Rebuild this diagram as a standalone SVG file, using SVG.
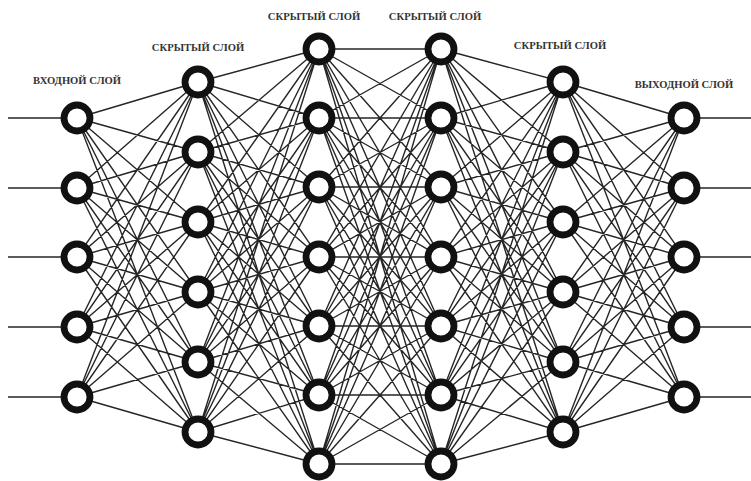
<svg xmlns="http://www.w3.org/2000/svg" width="751" height="481" viewBox="0 0 751 481">
<style>
.c{fill:none;stroke:#262626;stroke-width:1.4;stroke-linejoin:round}
.n{fill:#fff;stroke:#111;stroke-width:6.8}
.t{font-family:"Liberation Serif",serif;font-weight:bold;font-size:10.6px;fill:#333;text-anchor:middle}
</style>
<rect width="751" height="481" fill="#fff"/>
<g id="connectors">
<path class="c" d="M8 118H77M8 188H77M8 257H77M8 327H77M8 397H77M684 118H751M684 188H751M684 257H751M684 327H751M684 397H751"/>
<path class="c" d="M77 118L198 82 77 118 198 152 77 118 198 222 77 118 198 292 77 118 198 362 77 118 198 432
M77 188L198 82 77 188 198 152 77 188 198 222 77 188 198 292 77 188 198 362 77 188 198 432
M77 257L198 82 77 257 198 152 77 257 198 222 77 257 198 292 77 257 198 362 77 257 198 432
M77 327L198 82 77 327 198 152 77 327 198 222 77 327 198 292 77 327 198 362 77 327 198 432
M77 397L198 82 77 397 198 152 77 397 198 222 77 397 198 292 77 397 198 362 77 397 198 432"/>
<path class="c" d="M198 82L319 49 198 82 319 118 198 82 319 187 198 82 319 257 198 82 319 326 198 82 319 395 198 82 319 464
M198 152L319 49 198 152 319 118 198 152 319 187 198 152 319 257 198 152 319 326 198 152 319 395 198 152 319 464
M198 222L319 49 198 222 319 118 198 222 319 187 198 222 319 257 198 222 319 326 198 222 319 395 198 222 319 464
M198 292L319 49 198 292 319 118 198 292 319 187 198 292 319 257 198 292 319 326 198 292 319 395 198 292 319 464
M198 362L319 49 198 362 319 118 198 362 319 187 198 362 319 257 198 362 319 326 198 362 319 395 198 362 319 464
M198 432L319 49 198 432 319 118 198 432 319 187 198 432 319 257 198 432 319 326 198 432 319 395 198 432 319 464"/>
<path class="c" d="M319 49L441 49 319 49 441 118 319 49 441 187 319 49 441 257 319 49 441 326 319 49 441 395 319 49 441 464
M319 118L441 49 319 118 441 118 319 118 441 187 319 118 441 257 319 118 441 326 319 118 441 395 319 118 441 464
M319 187L441 49 319 187 441 118 319 187 441 187 319 187 441 257 319 187 441 326 319 187 441 395 319 187 441 464
M319 257L441 49 319 257 441 118 319 257 441 187 319 257 441 257 319 257 441 326 319 257 441 395 319 257 441 464
M319 326L441 49 319 326 441 118 319 326 441 187 319 326 441 257 319 326 441 326 319 326 441 395 319 326 441 464
M319 395L441 49 319 395 441 118 319 395 441 187 319 395 441 257 319 395 441 326 319 395 441 395 319 395 441 464
M319 464L441 49 319 464 441 118 319 464 441 187 319 464 441 257 319 464 441 326 319 464 441 395 319 464 441 464"/>
<path class="c" d="M441 49L563 82 441 49 563 152 441 49 563 222 441 49 563 292 441 49 563 362 441 49 563 432
M441 118L563 82 441 118 563 152 441 118 563 222 441 118 563 292 441 118 563 362 441 118 563 432
M441 187L563 82 441 187 563 152 441 187 563 222 441 187 563 292 441 187 563 362 441 187 563 432
M441 257L563 82 441 257 563 152 441 257 563 222 441 257 563 292 441 257 563 362 441 257 563 432
M441 326L563 82 441 326 563 152 441 326 563 222 441 326 563 292 441 326 563 362 441 326 563 432
M441 395L563 82 441 395 563 152 441 395 563 222 441 395 563 292 441 395 563 362 441 395 563 432
M441 464L563 82 441 464 563 152 441 464 563 222 441 464 563 292 441 464 563 362 441 464 563 432"/>
<path class="c" d="M563 82L684 118 563 82 684 188 563 82 684 257 563 82 684 327 563 82 684 397
M563 152L684 118 563 152 684 188 563 152 684 257 563 152 684 327 563 152 684 397
M563 222L684 118 563 222 684 188 563 222 684 257 563 222 684 327 563 222 684 397
M563 292L684 118 563 292 684 188 563 292 684 257 563 292 684 327 563 292 684 397
M563 362L684 118 563 362 684 188 563 362 684 257 563 362 684 327 563 362 684 397
M563 432L684 118 563 432 684 188 563 432 684 257 563 432 684 327 563 432 684 397"/>
</g>
<g id="labels">
<text class="t" x="77" y="84">ВХОДНОЙ СЛОЙ</text>
<text class="t" x="198" y="51">СКРЫТЫЙ СЛОЙ</text>
<text class="t" x="314" y="20">СКРЫТЫЙ СЛОЙ</text>
<text class="t" x="435" y="20">СКРЫТЫЙ СЛОЙ</text>
<text class="t" x="560" y="49">СКРЫТЫЙ СЛОЙ</text>
<text class="t" x="684" y="88">ВЫХОДНОЙ СЛОЙ</text>
</g>
<g id="layer-input">
<circle id="i1" class="n" cx="77" cy="118" r="13"/>
<circle id="i2" class="n" cx="77" cy="188" r="13"/>
<circle id="i3" class="n" cx="77" cy="257" r="13"/>
<circle id="i4" class="n" cx="77" cy="327" r="13"/>
<circle id="i5" class="n" cx="77" cy="397" r="13"/>
</g>
<g id="layer-hidden1">
<circle id="a1" class="n" cx="198" cy="82" r="13"/>
<circle id="a2" class="n" cx="198" cy="152" r="13"/>
<circle id="a3" class="n" cx="198" cy="222" r="13"/>
<circle id="a4" class="n" cx="198" cy="292" r="13"/>
<circle id="a5" class="n" cx="198" cy="362" r="13"/>
<circle id="a6" class="n" cx="198" cy="432" r="13"/>
</g>
<g id="layer-hidden2">
<circle id="b1" class="n" cx="319" cy="49" r="13"/>
<circle id="b2" class="n" cx="319" cy="118" r="13"/>
<circle id="b3" class="n" cx="319" cy="187" r="13"/>
<circle id="b4" class="n" cx="319" cy="257" r="13"/>
<circle id="b5" class="n" cx="319" cy="326" r="13"/>
<circle id="b6" class="n" cx="319" cy="395" r="13"/>
<circle id="b7" class="n" cx="319" cy="464" r="13"/>
</g>
<g id="layer-hidden3">
<circle id="c1" class="n" cx="441" cy="49" r="13"/>
<circle id="c2" class="n" cx="441" cy="118" r="13"/>
<circle id="c3" class="n" cx="441" cy="187" r="13"/>
<circle id="c4" class="n" cx="441" cy="257" r="13"/>
<circle id="c5" class="n" cx="441" cy="326" r="13"/>
<circle id="c6" class="n" cx="441" cy="395" r="13"/>
<circle id="c7" class="n" cx="441" cy="464" r="13"/>
</g>
<g id="layer-hidden4">
<circle id="d1" class="n" cx="563" cy="82" r="13"/>
<circle id="d2" class="n" cx="563" cy="152" r="13"/>
<circle id="d3" class="n" cx="563" cy="222" r="13"/>
<circle id="d4" class="n" cx="563" cy="292" r="13"/>
<circle id="d5" class="n" cx="563" cy="362" r="13"/>
<circle id="d6" class="n" cx="563" cy="432" r="13"/>
</g>
<g id="layer-output">
<circle id="o1" class="n" cx="684" cy="118" r="13"/>
<circle id="o2" class="n" cx="684" cy="188" r="13"/>
<circle id="o3" class="n" cx="684" cy="257" r="13"/>
<circle id="o4" class="n" cx="684" cy="327" r="13"/>
<circle id="o5" class="n" cx="684" cy="397" r="13"/>
</g>
</svg>
